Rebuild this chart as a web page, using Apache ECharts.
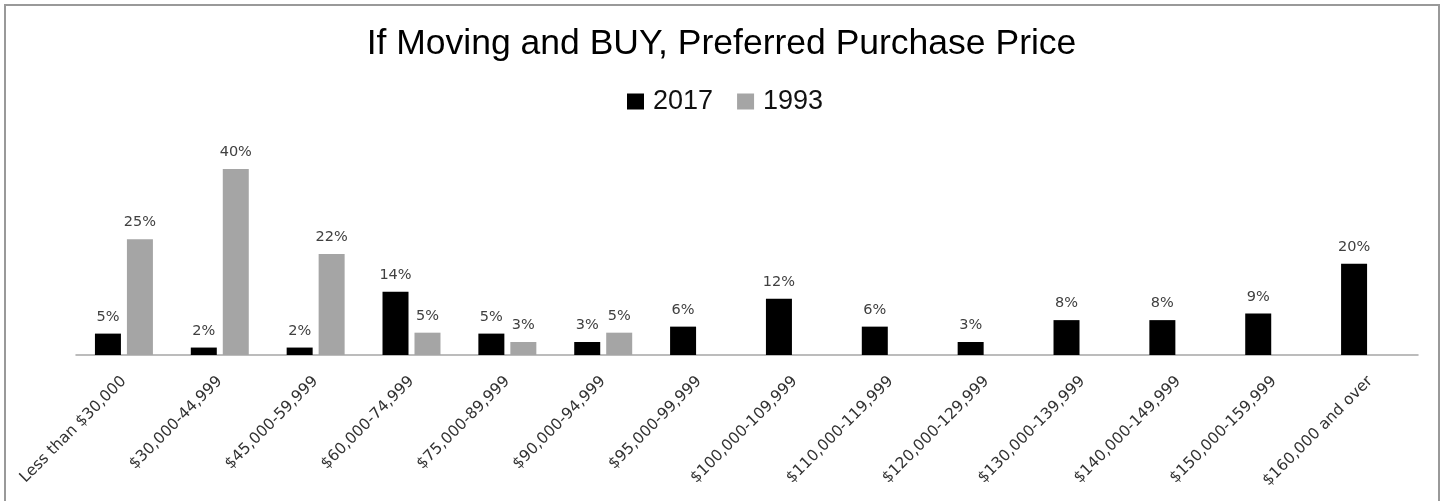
<!DOCTYPE html>
<html>
<head>
<meta charset="utf-8">
<script src="https://cdn.jsdelivr.net/npm/echarts@6/dist/echarts.min.js"></script>
<style>
html,body{margin:0;padding:0;background:#fff;}
#chart{width:1443px;height:501px;}
</style>
</head>
<body>
<div id="chart"></div>
<script>
var categories = ["Less than $30,000","$30,000-44,999","$45,000-59,999","$60,000-74,999","$75,000-89,999","$90,000-94,999","$95,000-99,999","$100,000-109,999","$110,000-119,999","$120,000-129,999","$130,000-139,999","$140,000-149,999","$150,000-159,999","$160,000 and over"];
var values2017 = [4.6, 1.6, 1.6, 13.6, 4.6, 2.8, 6.1, 12.1, 6.1, 2.8, 7.5, 7.5, 8.9, 19.6];
var values1993 = [24.9, 40, 21.7, 4.8, 2.8, 4.8, null, null, null, null, null, null, null, null];
var seriesNames = ["2017", "1993"];

var chart = echarts.init(document.getElementById('chart'));
var labelOpt = {
  show: true,
  position: 'top',
  distance: 9,
  fontFamily: 'DejaVu Sans',
  fontSize: 14.5,
  color: '#404040',
  formatter: function (p) { return p.value == null ? '' : Math.round(p.value) + '%'; }
};
chart.setOption({
  animation: false,
  backgroundColor: '#fff',
  title: {
    text: 'If Moving and BUY, Preferred Purchase Price',
    left: 'center',
    top: 21,
    textStyle: { fontFamily: 'Liberation Sans', fontSize: 35.5, fontWeight: 'normal', color: '#000' }
  },
  legend: {
    data: seriesNames,
    left: 622,
    top: 83,
    itemWidth: 17,
    itemHeight: 16,
    itemGap: 24,
    icon: 'rect',
    textStyle: { fontFamily: 'Liberation Sans', fontSize: 27, color: '#111', padding: [0, 0, 0, 4] }
  },
  graphic: [{
    type: 'rect',
    shape: { x: 5, y: 5, width: 1434, height: 520 },
    style: { fill: 'none', stroke: '#999', lineWidth: 2 },
    silent: true
  }],
  grid: { left: 76, right: 25, top: 122.5, bottom: 146 },
  xAxis: {
    type: 'category',
    data: categories,
    axisTick: { show: false },
    axisLine: { lineStyle: { color: '#a6a6a6', width: 1.5 } },
    axisLabel: {
      interval: 0,
      rotate: 45,
      margin: 24,
      fontFamily: 'DejaVu Sans',
      fontSize: 15.5,
      color: '#333'
    }
  },
  yAxis: {
    type: 'value',
    min: 0,
    max: 50,
    show: false,
    splitLine: { show: false }
  },
  series: [
    { name: seriesNames[0], type: 'bar', data: values2017, barWidth: 26, barGap: '23%', itemStyle: { color: '#000000' }, label: labelOpt },
    { name: seriesNames[1], type: 'bar', data: values1993, barWidth: 26, barGap: '23%', itemStyle: { color: '#a5a5a5' }, label: labelOpt }
  ]
});
</script>
</body>
</html>
